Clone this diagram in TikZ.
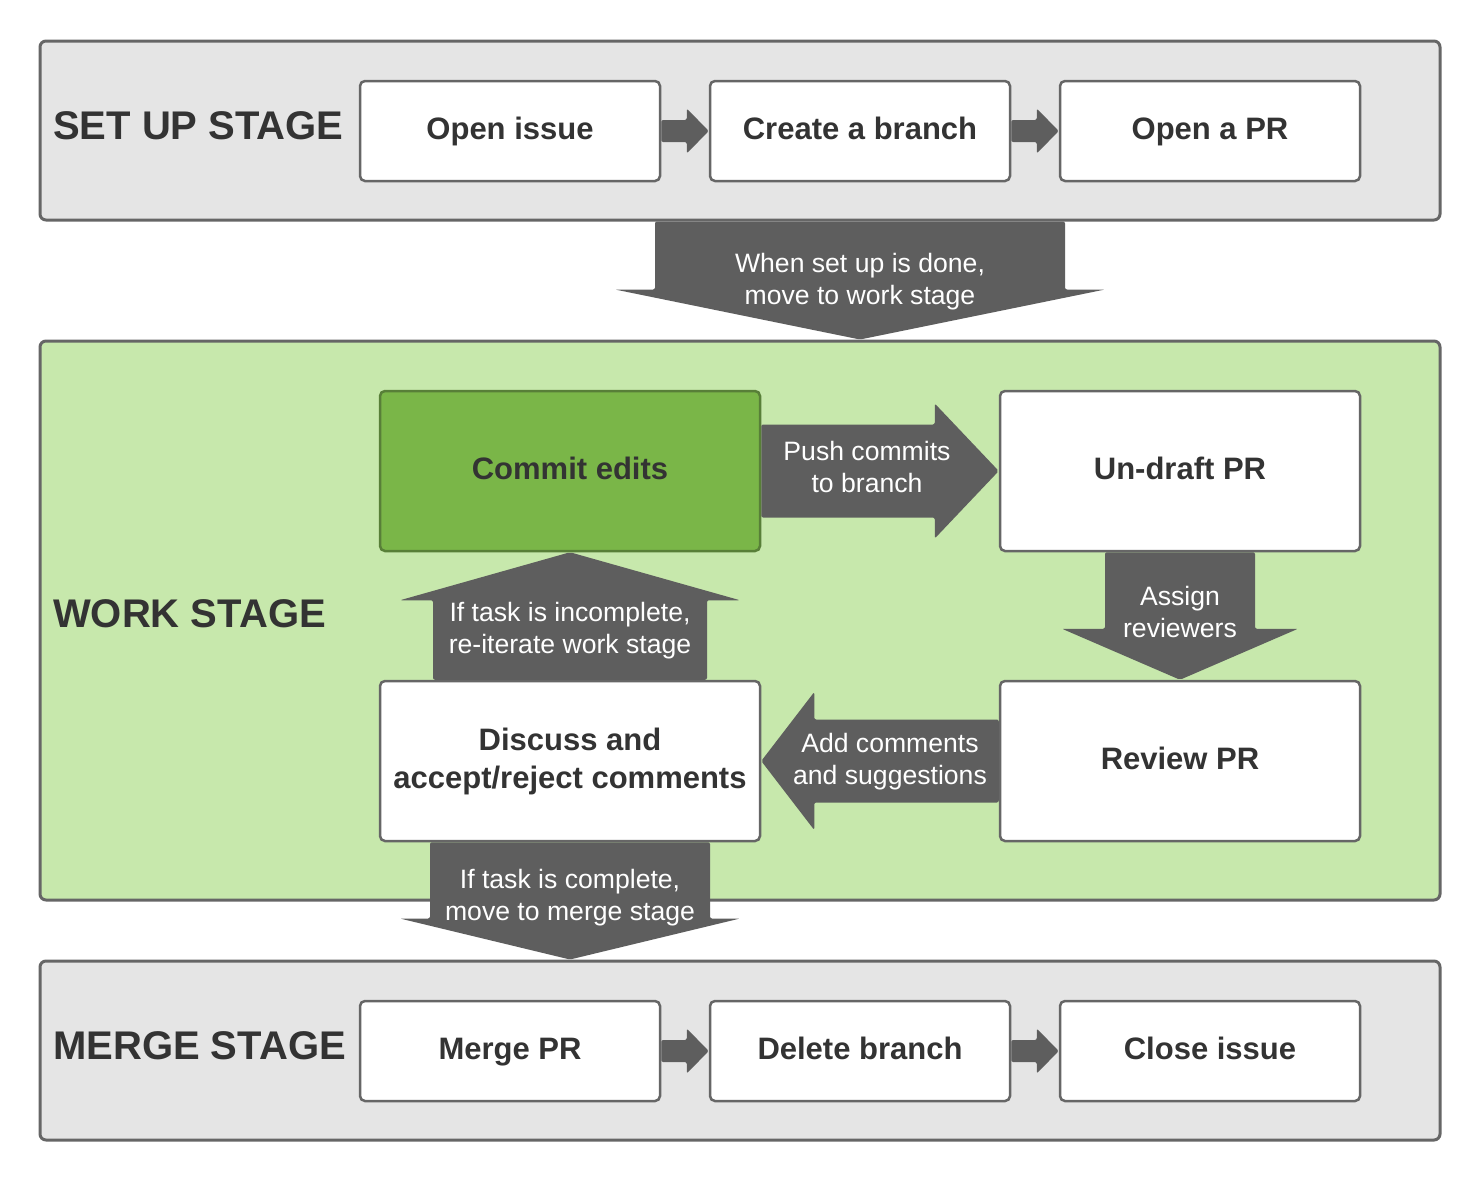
\documentclass[tikz,border=0pt]{standalone}
\usepackage{fontspec}
\setmainfont{Liberation Sans}
\usetikzlibrary{calc}

\definecolor{panelgray}{HTML}{E5E5E5}
\definecolor{panelgreen}{HTML}{C7E8AC}
\definecolor{commitgreen}{HTML}{7AB648}
\definecolor{commitedge}{HTML}{587F38}
\definecolor{edgegray}{HTML}{666666}
\definecolor{flowgray}{HTML}{5E5E5E}
\definecolor{labelgray}{HTML}{333333}

\tikzset{
  panel/.style={draw=edgegray, line width=3pt, rounded corners=6pt, inner sep=0pt,
    minimum width=1400pt, minimum height=179pt},
  task/.style={draw=edgegray, line width=2.5pt, fill=white, rounded corners=5pt,
    minimum width=300pt, minimum height=100pt, align=center, text=labelgray,
    text height=23pt, text depth=7pt,
    font=\fontsize{31}{38}\selectfont\bfseries},
  bigtask/.style={task, minimum width=380pt, minimum height=160pt},
  stagelabel/.style={anchor=west, inner sep=0pt, text=labelgray,
    font=\fontsize{40}{48}\selectfont\bfseries},
  flow/.style={fill=flowgray, rounded corners=2pt},
  flowtext/.style={text=white, align=center, font=\fontsize{26.6}{32}\selectfont}
}

% block arrow: base, tip, shaft half width, head half width, head length
\newcommand{\flowarrow}[5]{%
  \coordinate (fh) at ($(#2)!#5!(#1)$);
  \fill[flow] ($(#1)!#3!90:(#2)$) -- ($(fh)!#3!-90:(#1)$) -- ($(fh)!#4!-90:(#1)$)
    -- (#2) -- ($(fh)!#4!90:(#1)$) -- ($(fh)!#3!90:(#1)$) -- ($(#1)!#3!-90:(#2)$) -- cycle;}

\begin{document}
\begin{tikzpicture}[x=1pt,y=-1pt]
  \fill[white] (0,0) rectangle (1480,1181);
  \useasboundingbox (0,0) rectangle (1480,1181);

  % stages
  \node[panel, fill=panelgray] (setup) at (740,130.5) {};
  \node[panel, fill=panelgreen, minimum height=559pt] (work) at (740,620.5) {};
  \node[panel, fill=panelgray] (merge) at (740,1050.5) {};
  \node[stagelabel] (setuplabel) at (53,126) {SET UP STAGE};
  \node[stagelabel] (worklabel) at (53,614) {WORK STAGE};
  \node[stagelabel] (mergelabel) at (53,1046) {MERGE STAGE};

  % set up stage
  \node[task] (issue) at (510,131) {Open issue};
  \node[task] (branch) at (860,131) {Create a branch};
  \node[task] (openpr) at (1210,131) {Open a PR};
  \flowarrow{issue.east}{branch.west}{11pt}{22.5pt}{22pt}
  \flowarrow{branch.east}{openpr.west}{11pt}{22.5pt}{22pt}

  \coordinate (setupout) at (setup.south -| branch.center);
  \coordinate (workin) at (work.north -| branch.center);
  \flowarrow{setupout}{workin}{205pt}{245pt}{50pt}
  \node[flowtext] (setupdone) at (860,282) {When set up is done,\\move to work stage};

  % work stage
  \node[bigtask, fill=commitgreen, draw=commitedge] (commit) at (570,471) {Commit edits};
  \node[bigtask, minimum width=360pt] (undraft) at (1180,471) {Un-draft PR};
  \node[bigtask, minimum width=360pt] (review) at (1180,761) {Review PR};
  \node[bigtask, text height=, text depth=] (discuss) at (570,761) {Discuss and\\accept/reject comments};

  \flowarrow{commit.east}{undraft.west}{46.5pt}{67.5pt}{64pt}
  \node[flowtext] (push) at (867,467) {Push commits\\to branch};
  \flowarrow{undraft.south}{review.north}{75pt}{118pt}{51pt}
  \node[flowtext] (assign) at (1180,612) {Assign\\reviewers};
  \flowarrow{review.west}{discuss.east}{41.5pt}{69pt}{53pt}
  \node[flowtext] (comments) at (890,762) {Add comments\\and suggestions};
  \flowarrow{discuss.north}{commit.south}{137pt}{170pt}{48pt}
  \node[flowtext] (reiterate) at (570,631) {If task is incomplete,\\re-iterate work stage};

  \coordinate (mergein) at (merge.north -| discuss.center);
  \flowarrow{discuss.south}{mergein}{140pt}{170pt}{41pt}
  \node[flowtext] (complete) at (570,898) {If task is complete,\\move to merge stage};

  % merge stage
  \node[task] (mergepr) at (510,1051) {Merge PR};
  \node[task] (delbranch) at (860,1051) {Delete branch};
  \node[task] (closeissue) at (1210,1051) {Close issue};
  \flowarrow{mergepr.east}{delbranch.west}{11pt}{22.5pt}{22pt}
  \flowarrow{delbranch.east}{closeissue.west}{11pt}{22.5pt}{22pt}
\end{tikzpicture}
\end{document}
